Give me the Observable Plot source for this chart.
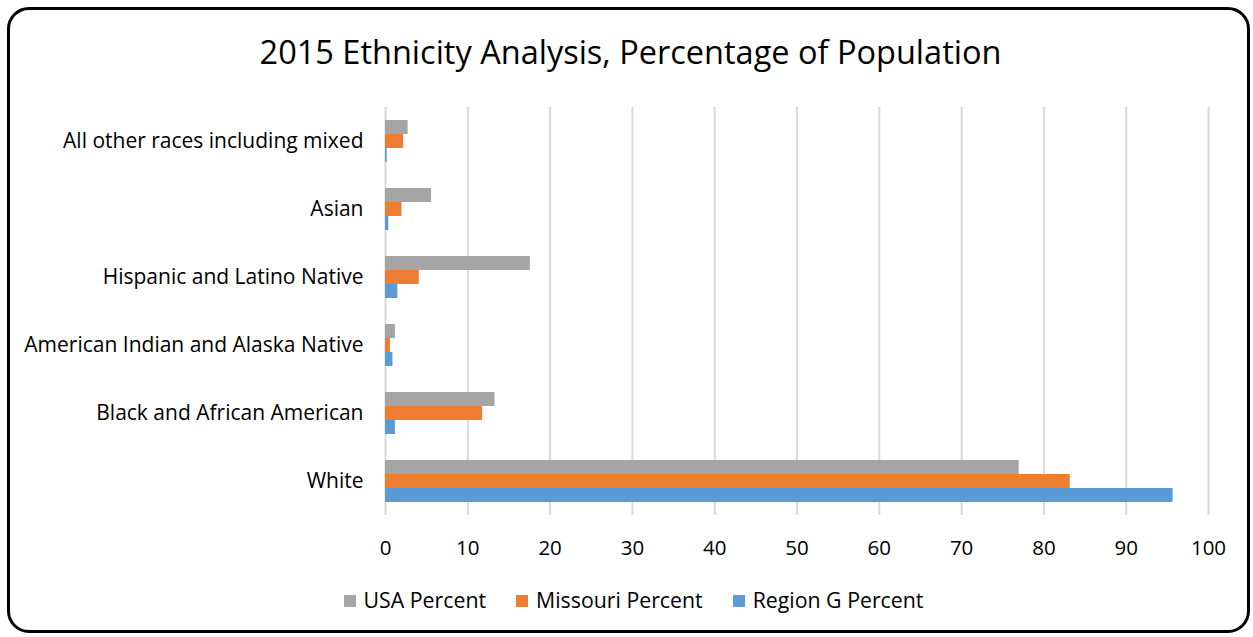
<!DOCTYPE html>
<html><head><meta charset="utf-8">
<script src="https://cdn.jsdelivr.net/npm/d3@7"></script>
<script src="https://cdn.jsdelivr.net/npm/@observablehq/plot@0.6"></script>
<style>
body{margin:0;background:#fff;font-family:"Open Sans",sans-serif;}
#frame{position:absolute;left:7px;top:7px;width:1243px;height:626px;border:3px solid #000;border-radius:22px;box-sizing:border-box;}
#title{position:absolute;left:0;width:1261px;top:29px;text-align:center;font-size:32.5px;color:#000;}
#chart{position:absolute;left:0;top:0;}
#legend{position:absolute;left:0;width:1253px;top:585px;display:flex;justify-content:center;gap:30px;font-size:21.3px;color:#000;margin-left:7px}
#legend span.sw{display:inline-block;width:12px;height:12px;margin-right:8px;vertical-align:1px}
</style></head><body>
<div id="frame"></div>
<div id="title">2015 Ethnicity Analysis, Percentage of Population</div>
<div id="chart"></div>
<div id="legend"></div>
<script>
const categories = ["All other races including mixed","Asian","Hispanic and Latino Native","American Indian and Alaska Native","Black and African American","White"];
const seriesNames = ["USA Percent","Missouri Percent","Region G Percent"];
const colors = ["#a5a5a5","#ed7d31","#5b9bd5"];
const usa = [2.75, 5.6, 17.6, 1.2, 13.3, 77.0];
const missouri = [2.2, 2.0, 4.1, 0.6, 11.8, 83.2];
const regionG = [0.2, 0.4, 1.5, 0.9, 1.2, 95.7];
const xTicks = [0,10,20,30,40,50,60,70,80,90,100];

const seriesValues = [usa, missouri, regionG];
const data = [];
categories.forEach((c, i) => seriesNames.forEach((s, j) => data.push({category: c, series: s, value: seriesValues[j][i]})));

const plot = Plot.plot({
  width: 1253, height: 580,
  marginTop: 105, marginBottom: 64, marginLeft: 385, marginRight: 45,
  style: {fontFamily: "Open Sans, sans-serif", fontSize: "20px", color: "#000", background: "transparent"},
  x: {domain: [0, 100], label: null},
  y: {domain: seriesNames, axis: null, paddingInner: 0, paddingOuter: 0.89},
  fy: {domain: categories, padding: 0, label: null},
  color: {domain: seriesNames, range: colors},
  marks: [
    Plot.gridX(xTicks, {stroke: "#d9d9d9", strokeOpacity: 1, strokeWidth: 2}),
    Plot.barX(data, {x: "value", y: "series", fy: "category", fill: "series"}),
    Plot.axisX(xTicks, {tickSize: 0, tickPadding: 25, fontSize: 20.5, label: null}),
    Plot.axisFy({anchor: "left", tickSize: 0, tickPadding: 22, fontSize: 21, label: null}),
  ]
});
document.getElementById("chart").appendChild(plot);

const lg = document.getElementById("legend");
seriesNames.forEach((s, j) => {
  const d = document.createElement("div");
  d.innerHTML = `<span class="sw" style="background:${colors[j]}"></span>${s}`;
  lg.appendChild(d);
});
</script>
</body></html>
